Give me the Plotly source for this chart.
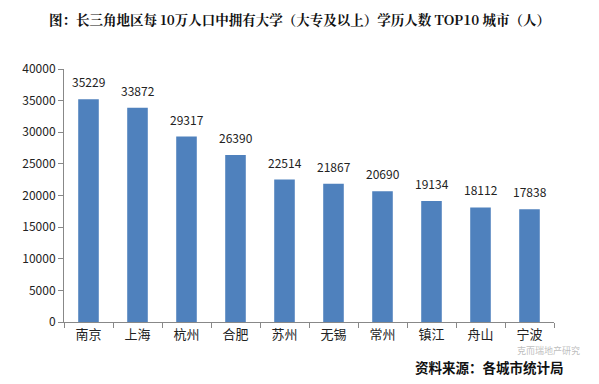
import plotly.graph_objects as go

cities = ["南京", "上海", "杭州", "合肥", "苏州", "无锡", "常州", "镇江", "舟山", "宁波"]
values = [35229, 33872, 29317, 26390, 22514, 21867, 20690, 19134, 18112, 17838]
yticks = [0, 5000, 10000, 15000, 20000, 25000, 30000, 35000, 40000]

# page has an 8px body margin: figure drawn at (8, 8)
OFF = 8
W, H = 599 - OFF, 384 - OFF
L, T = 64 - OFF, 69 - OFF
R = W - (554 - OFF)
B = H - (322 - OFF)
pw, ph = W - L - R, H - T - B

def px(x):
    return (x - OFF - L) / pw

def py(y):
    return (H - B - (y - OFF)) / ph

fig = go.Figure()
fig.add_trace(go.Bar(
    x=cities, y=values,
    marker=dict(color="#4F81BD", line=dict(width=0)),
    hoverinfo="x+y",
))

fig.update_layout(
    width=W, height=H,
    margin=dict(l=L, r=R, t=T, b=B, autoexpand=False),
    plot_bgcolor="white", paper_bgcolor="white",
    bargap=0.58,
    showlegend=False,
    font=dict(family="Noto Sans CJK SC, sans-serif", color="#222"),
    xaxis=dict(
        showline=True, linecolor="#888", linewidth=1,
        ticks="outside", tickson="boundaries", ticklen=5, tickcolor="#888",
        tickfont=dict(size=13, color="#222"),
    ),
    yaxis=dict(
        range=[0, 40000], tickvals=yticks, ticktext=[str(v) for v in yticks],
        showline=True, linecolor="#888", linewidth=1,
        ticks="outside", ticklen=5, tickcolor="#888",
        showgrid=False, zeroline=False,
        tickfont=dict(size=12, color="#222"),
    ),
)

for c, v in zip(cities, values):
    fig.add_annotation(x=c, y=v, text=str(v), showarrow=False,
                       yanchor="bottom", yshift=7,
                       font=dict(size=12, color="#222"))

fig.add_annotation(text="<b>图：长三角地区每 10万人口中拥有大学（大专及以上）学历人数 TOP10 城市（人）</b>",
                   x=px(299.5), y=py(19), xref="paper", yref="paper", showarrow=False,
                   xanchor="center", yanchor="middle",
                   font=dict(size=13.5, color="#111", family="Noto Serif CJK SC, Noto Sans CJK SC, serif"))
fig.add_annotation(text="克而瑞地产研究", x=px(582), y=py(350.5), xref="paper", yref="paper",
                   showarrow=False, xanchor="right", yanchor="middle",
                   font=dict(size=9, color="rgba(160,160,160,0.7)"))
fig.add_annotation(text="<b>资料来源：各城市统计局</b>", x=px(566), y=py(367),
                   xref="paper", yref="paper", showarrow=False,
                   xanchor="right", yanchor="middle",
                   font=dict(size=13.5, color="#111"))

fig.write_html("out.html")
